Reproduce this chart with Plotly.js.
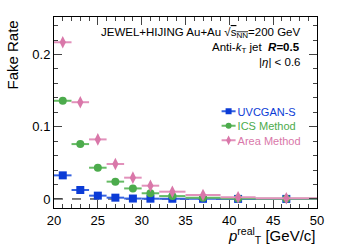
<!DOCTYPE html>
<html><head><meta charset="utf-8">
<script src="https://cdn.plot.ly/plotly-3.0.1.min.js"></script>
<style>body{margin:0;padding:0;background:#fff}#chart{width:341px;height:248px}</style>
</head><body><div id="chart"></div>
<script>
const binCenters = [21, 23, 25, 27, 29, 31, 33.5, 37, 41, 46.5];
const binHalfWidths = [1, 1, 1, 1, 1, 1, 1.5, 2, 2, 3.5];
const uvcganValues = [0.0327, 0.0124, 0.0046, 0.0018, 0.0006, 0.0004, 0.0003, 0.0002, 0.0001, 0.0001];
const icsValues = [0.136, 0.076, 0.0433, 0.024, 0.0146, 0.0079, 0.004, 0.0016, 0.0006, 0.0003];
const areaValues = [0.217, 0.134, 0.0825, 0.0484, 0.0295, 0.0184, 0.0101, 0.0055, 0.0023, 0.001];
const seriesNames = ["UVCGAN-S", "ICS Method", "Area Method"];
const xTickVals = [20, 25, 30, 35, 40, 45, 50];
const yTickVals = [0, 0.1, 0.2];
const yTickText = ["0", "0.1", "0.2"];

const font = "Liberation Sans, Arial, sans-serif";
const colors = ['#0b3bd6', '#4cab4c', '#d977a9'];
const ecolors = ['#3562e0', '#66bb64', '#e291bb'];
const symbols = ['square', 'circle', 'diamond-tall'];
const sizes = [8, 8, 9];
const series = [uvcganValues, icsValues, areaValues];

const traces = [];
series.forEach((y, i) => {
  traces.push({
    type: 'scatter', mode: 'markers', name: seriesNames[i], x: binCenters, y: y, showlegend: false,
    marker: {symbol: symbols[i], size: sizes[i], color: colors[i]},
    error_x: {type: 'data', array: binHalfWidths, visible: true, color: ecolors[i], thickness: 2, width: 0}
  });
});
series.forEach((y, i) => {
  traces.push({
    type: 'scatter', mode: 'lines+markers', name: seriesNames[i], x: [null], y: [null], showlegend: true,
    marker: {symbol: symbols[i], size: sizes[i] - 2, color: colors[i]},
    line: {color: ecolors[i], width: 2}
  });
});

const layout = {
  width: 341, height: 248,
  margin: {l: 54, r: 24, t: 17, b: 40},
  paper_bgcolor: '#fff', plot_bgcolor: '#fff',
  font: {family: font, color: '#000', size: 13},
  showlegend: true,
  legend: {x: 0.565, y: 0.43, xanchor: 'left', yanchor: 'middle', bgcolor: 'rgba(0,0,0,0)',
    font: {size: 11}, itemwidth: 30, tracegroupgap: 0},
  xaxis: {range: [20, 50], tickvals: xTickVals, ticks: 'inside', ticklen: 8, tickwidth: 1,
    showline: true, linecolor: '#000', linewidth: 1, mirror: 'ticks', showgrid: false, zeroline: false,
    tickfont: {size: 13}, minor: {dtick: 1, ticks: 'inside', ticklen: 4, tickwidth: 1, showgrid: false}},
  yaxis: {range: [-0.0125, 0.252], tickvals: yTickVals, ticktext: yTickText, ticks: 'inside', ticklen: 8, tickwidth: 1,
    showline: true, linecolor: '#000', linewidth: 1, mirror: 'ticks', showgrid: false, zeroline: false,
    tickfont: {size: 13}, minor: {dtick: 0.02, tick0: 0, ticks: 'inside', ticklen: 4, tickwidth: 1, showgrid: false}},
  shapes: [{type: 'line', xref: 'paper', x0: 0, x1: 1, yref: 'y', y0: 0, y1: 0,
    line: {color: '#000', width: 1, dash: 'dash'}, layer: 'below'}],
  annotations: [
    {xref: 'paper', yref: 'paper', x: 0.943, y: 0.916, xanchor: 'right', yanchor: 'middle', showarrow: false,
     text: 'JEWEL+HIJING Au+Au √<span style="text-decoration:overline">s<sub>NN</sub></span>=200 GeV', font: {size: 11.5}},
    {xref: 'paper', yref: 'paper', x: 0.943, y: 0.838, xanchor: 'right', yanchor: 'middle', showarrow: false,
     text: 'Anti-<i>k</i><sub>T</sub> jet  <b><i>R</i>=0.5</b>', font: {size: 11.5}},
    {xref: 'paper', yref: 'paper', x: 0.943, y: 0.765, xanchor: 'right', yanchor: 'middle', showarrow: false,
     text: '|<i>η</i>| &lt; 0.6', font: {size: 11.5}},
    {xref: 'paper', yref: 'paper', x: 1, y: -0.145, xanchor: 'right', yanchor: 'middle', showarrow: false,
     text: '<i>p</i><sup>real</sup><sub>T</sub> [GeV/c]', font: {size: 15}},
    {xref: 'paper', yref: 'paper', x: 0, xshift: -42, y: 1, yshift: -2, xanchor: 'center', yanchor: 'top', showarrow: false,
     textangle: -90, text: 'Fake Rate', font: {size: 15}}
  ]
};
Plotly.newPlot('chart', traces, layout, {displayModeBar: false, staticPlot: true}).then(() => {
  const groups = Array.from(document.querySelectorAll('.legend .traces'));
  const ys = groups.map(g => {
    const m = /translate\(([-\d.]+),\s*([-\d.]+)\)/.exec(g.getAttribute('transform') || '');
    return m ? [parseFloat(m[1]), parseFloat(m[2])] : [0, 0];
  });
  const mid = ys.length ? ys[Math.floor(ys.length / 2)][1] : 0;
  groups.forEach((g, i) => {
    g.setAttribute('transform', 'translate(' + ys[i][0] + ',' + (mid + (i - 1) * 14.5) + ')');
    const t = g.querySelector('.legendtext');
    if (t) { t.style.fill = colors[i]; t.setAttribute('x', 35); }
    const l = g.querySelector('.legendlines path');
    if (l) l.setAttribute('d', 'M19,0h14');
    g.querySelectorAll('.legendpoints path.scatterpts').forEach(p => p.setAttribute('transform', 'translate(26,0)'));
  });
});
</script></body></html>
